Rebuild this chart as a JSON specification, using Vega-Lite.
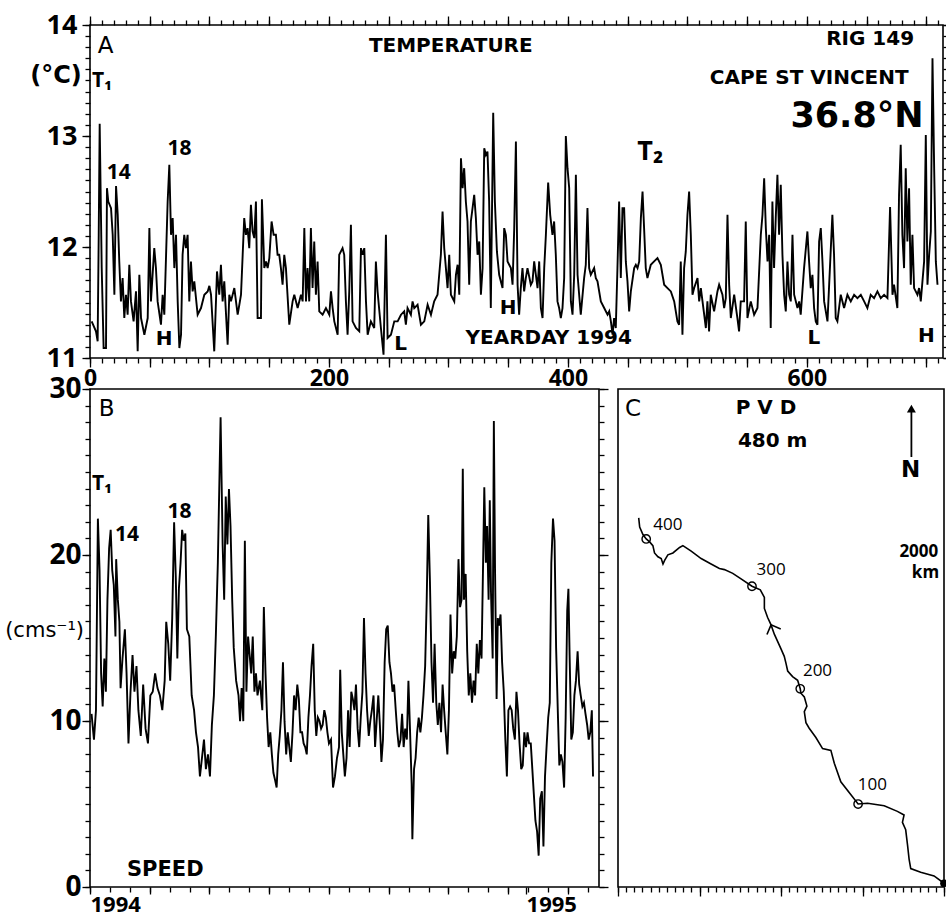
{
  "$schema": "https://vega.github.io/schema/vega-lite/v6.json",
  "background": "white",
  "padding": {"left": 4, "top": 10, "right": 0, "bottom": 0},
  "bounds": "flush",
  "spacing": 31,
  "config": {
    "font": "Open Sans, DejaVu Sans",
    "view": {"stroke": "black", "strokeWidth": 1.6},
    "axis": {"domain": false, "grid": false, "tickColor": "black", "tickWidth": 1.3, "labelColor": "black", "labelFont": "Open Sans, DejaVu Sans", "labelFontWeight": "bold", "labelFlush": false, "labelOverlap": false, "labelPadding": 1}
  },
  "vconcat": [
    {
      "width": 853,
      "height": 333,
      "layer": [
        {
          "data": {"values": [
{"day":1.4,"temp":11.33},{"day":5.0,"temp":11.24},{"day":6.4,"temp":11.15},{"day":7.3,"temp":12.11},{"day":8.1,"temp":13.11},{"day":9.8,"temp":11.81},{"day":11.4,"temp":11.09},{"day":13.4,"temp":11.09},{"day":14.2,"temp":12.53},{"day":15.3,"temp":12.41},{"day":17.6,"temp":12.35},{"day":19.0,"temp":12.11},{"day":20.4,"temp":11.57},{"day":21.8,"temp":12.55},{"day":23.2,"temp":12.29},{"day":24.5,"temp":11.87},{"day":25.9,"temp":11.51},{"day":27.3,"temp":11.72},{"day":28.7,"temp":11.36},{"day":30.1,"temp":11.57},{"day":31.5,"temp":11.39},{"day":32.9,"temp":11.84},{"day":34.3,"temp":11.51},{"day":36.5,"temp":11.33},{"day":38.5,"temp":11.60},{"day":39.9,"temp":11.06},{"day":41.3,"temp":11.75},{"day":42.7,"temp":11.36},{"day":45.5,"temp":11.21},{"day":48.3,"temp":11.36},{"day":49.7,"temp":12.17},{"day":51.0,"temp":11.51},{"day":53.8,"temp":11.99},{"day":55.2,"temp":11.81},{"day":56.6,"temp":11.51},{"day":59.4,"temp":11.30},{"day":60.8,"temp":11.57},{"day":62.2,"temp":11.39},{"day":65.0,"temp":12.41},{"day":66.4,"temp":12.74},{"day":67.8,"temp":12.11},{"day":69.2,"temp":12.26},{"day":70.6,"temp":11.81},{"day":72.0,"temp":12.11},{"day":73.4,"temp":11.51},{"day":74.8,"temp":11.09},{"day":76.2,"temp":11.21},{"day":77.5,"temp":11.93},{"day":78.9,"temp":12.11},{"day":80.3,"temp":11.99},{"day":81.7,"temp":12.11},{"day":83.1,"temp":11.51},{"day":84.5,"temp":11.87},{"day":85.9,"temp":11.60},{"day":87.3,"temp":11.69},{"day":90.1,"temp":11.39},{"day":92.9,"temp":11.45},{"day":95.7,"temp":11.57},{"day":98.5,"temp":11.60},{"day":99.9,"temp":11.65},{"day":101.3,"temp":11.57},{"day":104.0,"temp":11.06},{"day":106.3,"temp":11.78},{"day":108.2,"temp":11.57},{"day":109.6,"temp":11.84},{"day":111.0,"temp":11.51},{"day":112.4,"temp":11.69},{"day":115.2,"temp":11.12},{"day":116.6,"temp":11.57},{"day":118.0,"temp":11.51},{"day":120.8,"temp":11.63},{"day":123.6,"temp":11.39},{"day":125.0,"temp":11.48},{"day":126.4,"temp":11.57},{"day":127.8,"temp":11.93},{"day":129.1,"temp":12.26},{"day":130.5,"temp":12.11},{"day":131.9,"temp":12.17},{"day":133.3,"temp":11.99},{"day":134.7,"temp":12.38},{"day":136.1,"temp":12.14},{"day":137.5,"temp":12.08},{"day":138.9,"temp":12.41},{"day":140.3,"temp":11.36},{"day":143.1,"temp":11.36},{"day":143.9,"temp":12.43},{"day":145.9,"temp":11.81},{"day":147.3,"temp":11.87},{"day":148.7,"temp":11.81},{"day":150.1,"temp":11.90},{"day":152.0,"temp":12.23},{"day":153.7,"temp":12.11},{"day":155.6,"temp":12.11},{"day":157.0,"temp":11.93},{"day":158.4,"temp":11.93},{"day":159.8,"temp":11.81},{"day":161.2,"temp":11.66},{"day":162.6,"temp":11.93},{"day":164.0,"temp":11.81},{"day":166.8,"temp":11.30},{"day":169.6,"temp":11.51},{"day":171.0,"temp":11.57},{"day":173.8,"temp":11.45},{"day":176.6,"temp":11.57},{"day":178.0,"temp":11.51},{"day":179.4,"temp":12.17},{"day":180.8,"temp":11.51},{"day":182.1,"temp":11.81},{"day":183.5,"temp":11.51},{"day":184.9,"temp":12.17},{"day":186.3,"temp":11.63},{"day":187.7,"temp":12.05},{"day":189.1,"temp":11.57},{"day":190.5,"temp":11.87},{"day":191.9,"temp":11.42},{"day":194.7,"temp":11.39},{"day":197.5,"temp":11.45},{"day":200.3,"temp":11.39},{"day":201.7,"temp":11.60},{"day":203.1,"temp":11.45},{"day":204.5,"temp":11.33},{"day":207.3,"temp":11.21},{"day":208.6,"temp":11.93},{"day":211.4,"temp":11.99},{"day":212.8,"temp":11.93},{"day":214.2,"temp":11.51},{"day":215.6,"temp":11.21},{"day":217.0,"temp":11.60},{"day":218.4,"temp":12.20},{"day":219.8,"temp":11.33},{"day":222.6,"temp":11.27},{"day":225.4,"temp":11.24},{"day":226.8,"temp":11.99},{"day":228.2,"temp":11.93},{"day":229.6,"temp":11.99},{"day":231.0,"temp":11.51},{"day":232.4,"temp":11.21},{"day":235.1,"temp":11.33},{"day":237.9,"temp":11.27},{"day":239.3,"temp":11.87},{"day":240.7,"temp":11.60},{"day":243.5,"temp":11.27},{"day":245.7,"temp":11.03},{"day":247.7,"temp":12.11},{"day":249.1,"temp":11.18},{"day":251.9,"temp":11.21},{"day":254.7,"temp":11.33},{"day":257.5,"temp":11.33},{"day":260.3,"temp":11.39},{"day":263.0,"temp":11.42},{"day":264.4,"temp":11.30},{"day":265.8,"temp":11.45},{"day":268.6,"temp":11.39},{"day":270.0,"temp":11.51},{"day":271.4,"temp":11.45},{"day":274.2,"temp":11.48},{"day":277.0,"temp":11.30},{"day":279.8,"temp":11.33},{"day":282.6,"temp":11.48},{"day":285.4,"temp":11.39},{"day":288.1,"temp":11.51},{"day":290.9,"temp":11.57},{"day":293.7,"temp":11.93},{"day":295.1,"temp":12.32},{"day":296.5,"temp":11.99},{"day":299.3,"temp":11.63},{"day":300.7,"temp":11.93},{"day":302.1,"temp":11.57},{"day":304.9,"temp":11.51},{"day":306.3,"temp":11.75},{"day":307.7,"temp":11.84},{"day":309.1,"temp":11.57},{"day":310.5,"temp":12.80},{"day":311.9,"temp":12.53},{"day":313.2,"temp":12.71},{"day":314.6,"temp":12.41},{"day":316.0,"temp":12.23},{"day":317.4,"temp":11.66},{"day":318.8,"temp":12.23},
{"day":321.6,"temp":12.47},{"day":323.0,"temp":12.26},{"day":324.4,"temp":11.93},{"day":325.8,"temp":12.05},{"day":327.2,"temp":11.57},{"day":328.6,"temp":11.81},{"day":330.0,"temp":12.89},{"day":331.4,"temp":12.83},{"day":332.7,"temp":12.86},{"day":334.1,"temp":12.41},{"day":335.5,"temp":11.45},{"day":337.5,"temp":13.21},{"day":338.9,"temp":12.41},{"day":340.6,"temp":11.96},{"day":342.5,"temp":11.75},{"day":343.9,"temp":11.69},{"day":345.3,"temp":11.63},{"day":346.7,"temp":12.17},{"day":348.1,"temp":12.11},{"day":349.5,"temp":11.87},{"day":352.3,"temp":11.81},{"day":353.7,"temp":11.66},{"day":355.1,"temp":12.17},{"day":356.5,"temp":12.95},{"day":357.9,"temp":11.66},{"day":359.2,"temp":11.39},{"day":360.6,"temp":11.63},{"day":362.0,"temp":11.81},{"day":363.4,"temp":11.60},{"day":364.8,"temp":11.72},{"day":366.2,"temp":11.81},{"day":369.0,"temp":11.66},{"day":370.4,"temp":11.69},{"day":371.8,"temp":11.87},{"day":374.6,"temp":11.63},{"day":376.0,"temp":11.87},{"day":377.4,"temp":11.45},{"day":378.8,"temp":11.36},{"day":380.2,"temp":11.81},{"day":381.6,"temp":12.11},{"day":383.5,"temp":12.58},{"day":385.2,"temp":12.29},{"day":387.1,"temp":12.11},{"day":388.5,"temp":12.23},{"day":389.9,"temp":11.93},{"day":391.3,"temp":11.51},{"day":392.7,"temp":11.45},{"day":394.1,"temp":11.36},{"day":395.5,"temp":11.45},{"day":396.9,"temp":11.72},{"day":398.3,"temp":13.00},{"day":399.7,"temp":12.71},{"day":401.1,"temp":12.53},{"day":402.5,"temp":11.51},{"day":403.9,"temp":11.39},{"day":405.3,"temp":11.75},{"day":406.7,"temp":12.65},{"day":408.1,"temp":11.75},{"day":410.8,"temp":11.39},{"day":413.6,"temp":11.72},{"day":415.0,"temp":11.84},{"day":416.4,"temp":12.35},{"day":417.8,"temp":11.81},{"day":419.2,"temp":11.75},{"day":422.0,"temp":11.81},{"day":423.4,"temp":11.72},{"day":424.8,"temp":11.69},{"day":427.6,"temp":11.51},{"day":430.4,"temp":11.45},{"day":433.2,"temp":11.39},{"day":434.6,"temp":11.42},{"day":436.0,"temp":11.33},{"day":437.4,"temp":11.21},{"day":438.7,"temp":11.36},{"day":440.1,"temp":11.27},{"day":441.5,"temp":11.81},{"day":442.9,"temp":12.41},{"day":444.3,"temp":11.72},{"day":445.7,"temp":12.35},{"day":447.1,"temp":12.35},{"day":448.5,"temp":11.87},{"day":449.9,"temp":11.69},{"day":451.3,"temp":11.42},{"day":452.7,"temp":11.60},{"day":455.5,"temp":11.81},{"day":456.9,"temp":11.84},{"day":458.3,"temp":11.81},{"day":459.7,"temp":11.87},{"day":461.1,"temp":12.26},{"day":462.5,"temp":12.50},{"day":463.8,"temp":12.17},{"day":465.2,"temp":11.81},{"day":466.6,"temp":11.72},{"day":469.4,"temp":11.84},{"day":472.2,"temp":11.87},{"day":475.0,"temp":11.90},{"day":477.8,"temp":11.84},{"day":480.6,"temp":11.66},{"day":483.4,"temp":11.63},{"day":486.2,"temp":11.60},{"day":489.0,"temp":11.51},{"day":491.7,"temp":11.33},{"day":493.1,"temp":11.30},{"day":494.5,"temp":11.87},{"day":495.9,"temp":11.21},{"day":497.3,"temp":11.81},{"day":498.7,"temp":11.96},{"day":500.1,"temp":12.29},{"day":501.5,"temp":12.50},{"day":502.9,"temp":12.11},{"day":504.3,"temp":11.57},{"day":505.7,"temp":11.63},{"day":508.5,"temp":11.72},{"day":509.9,"temp":11.51},{"day":511.3,"temp":11.63},{"day":514.1,"temp":11.39},{"day":515.5,"temp":11.27},{"day":516.8,"temp":11.51},{"day":518.2,"temp":11.24},{"day":519.6,"temp":11.57},{"day":522.4,"temp":11.42},{"day":525.2,"temp":11.60},{"day":526.6,"temp":11.66},{"day":529.4,"temp":11.57},{"day":530.8,"temp":11.45},{"day":532.2,"temp":11.54},{"day":533.6,"temp":12.29},{"day":535.0,"temp":11.66},{"day":536.4,"temp":11.36},{"day":539.2,"temp":11.57},{"day":541.9,"temp":11.36},{"day":543.3,"temp":11.24},{"day":544.7,"temp":11.51},{"day":547.5,"temp":11.51},{"day":548.9,"temp":12.23},{"day":550.3,"temp":11.36},{"day":553.1,"temp":11.51},{"day":555.9,"temp":11.39},{"day":558.7,"temp":11.45},{"day":561.5,"temp":12.11},{"day":562.9,"temp":12.29},{"day":564.3,"temp":12.62},{"day":565.7,"temp":12.17},{"day":567.1,"temp":11.87},{"day":568.5,"temp":12.11},{"day":569.8,"temp":11.27},{"day":571.2,"temp":12.41},{"day":572.6,"temp":11.81},{"day":574.0,"temp":12.26},{"day":575.4,"temp":12.65},{"day":576.8,"temp":12.11},{"day":578.2,"temp":12.56},{"day":579.6,"temp":11.93},{"day":581.0,"temp":11.57},{"day":582.4,"temp":11.42},{"day":583.8,"temp":11.87},{"day":585.2,"temp":11.57},{"day":586.6,"temp":11.51},{"day":588.0,"temp":12.11},{"day":589.4,"temp":11.57},{"day":592.2,"temp":11.45},{"day":593.6,"temp":11.51},{"day":594.9,"temp":11.39},{"day":597.7,"temp":11.81},{"day":600.5,"temp":12.14},{"day":601.9,"temp":11.87},{"day":603.3,"temp":11.63},{"day":604.7,"temp":11.75},{"day":606.1,"temp":11.45},{"day":607.5,"temp":11.33},{"day":608.9,"temp":11.30},{"day":610.3,"temp":12.05},{"day":611.7,"temp":12.17},{"day":613.1,"temp":11.87},{"day":614.5,"temp":11.51},{"day":617.3,"temp":11.33},{"day":618.7,"temp":11.66},{"day":621.4,"temp":12.29},{"day":622.8,"temp":11.93},{"day":624.2,"temp":11.36},{"day":625.6,"temp":11.33},{"day":628.4,"temp":11.57},{"day":631.2,"temp":11.45},{"day":634.0,"temp":11.57},{"day":636.8,"temp":11.51},{"day":639.6,"temp":11.57},{"day":642.4,"temp":11.54},{"day":645.2,"temp":11.57},{"day":648.0,"temp":11.51},{"day":650.7,"temp":11.45},{"day":653.5,"temp":11.57},{"day":656.3,"temp":11.54},{"day":659.1,"temp":11.60},{"day":661.9,"temp":11.54},{"day":664.7,"temp":11.57},{"day":667.5,"temp":11.54},{"day":669.7,"temp":12.36},{"day":671.7,"temp":11.57},{"day":673.0,"temp":11.66},{"day":675.8,"temp":11.45},{"day":677.2,"temp":12.47},{"day":678.6,"temp":12.92},{"day":680.0,"temp":12.11},{"day":681.4,"temp":11.81},{"day":682.8,"temp":12.71},{"day":684.2,"temp":12.05},{"day":685.6,"temp":12.53},{"day":687.0,"temp":11.66},{"day":688.4,"temp":12.11},{"day":689.8,"temp":11.63},{"day":692.6,"temp":11.57},{"day":694.0,"temp":11.63},{"day":695.4,"temp":11.51},{"day":698.2,"temp":11.87},{"day":699.6,"temp":13.01},{"day":701.0,"temp":11.66},{"day":702.4,"temp":11.93},{"day":703.8,"temp":12.14},{"day":705.2,"temp":13.70},{"day":706.6,"temp":12.71},{"day":708.0,"temp":11.87},{"day":709.4,"temp":11.66}
          ]},
          "mark": {"type": "line", "color": "black", "strokeWidth": 1.9, "clip": true},
          "encoding": {
            "x": {"field": "day", "type": "quantitative", "scale": {"domain": [0, 714], "nice": false, "zero": false},
                  "axis": {"orient": "bottom", "title": null, "values": [0,50,100,150,200,250,300,350,400,450,500,550,600,650,700], "labelExpr": "datum.value % 200 === 0 ? datum.label : ''", "tickSize": 9, "labelFontSize": 23, "labelPadding": 0}},
            "y": {"field": "temp", "type": "quantitative", "scale": {"domain": [11, 14], "nice": false, "zero": false},
                  "axis": {"orient": "left", "title": null, "values": [11,12,13,14], "tickSize": 8, "labelFontSize": 27, "labelPadding": 5}}
          }
        },
        {
          "data": {"values": [
            {"day": 302, "temp": 13.81, "label": "TEMPERATURE"},
            {"day": 653, "temp": 13.87, "label": "RIG 149"},
            {"day": 602, "temp": 13.52, "label": "CAPE ST  VINCENT"},
            {"day": 384, "temp": 11.18, "label": "YEARDAY 1994"}
          ]},
          "mark": {"type": "text", "font": "DejaVu Sans", "fontWeight": "bold", "fontSize": 20, "color": "black", "align": "center", "baseline": "middle"},
          "encoding": {
            "x": {"field": "day", "type": "quantitative", "scale": {"domain": [0, 714], "nice": false, "zero": false},
                  "axis": {"orient": "bottom", "title": null, "values": [0,10,20,30,40,50,60,70,80,90,100,110,120,130,140,150,160,170,180,190,200,210,220,230,240,250,260,270,280,290,300,310,320,330,340,350,360,370,380,390,400,410,420,430,440,450,460,470,480,490,500,510,520,530,540,550,560,570,580,590,600,610,620,630,640,650,660,670,680,690,700,710], "labels": false, "tickSize": 5}},
            "y": {"field": "temp", "type": "quantitative", "scale": {"domain": [11, 14], "nice": false, "zero": false},
                  "axis": {"orient": "left", "title": null, "values": [11,11.1,11.2,11.3,11.4,11.5,11.6,11.7,11.8,11.9,12,12.1,12.2,12.3,12.4,12.5,12.6,12.7,12.8,12.9,13,13.1,13.2,13.3,13.4,13.5,13.6,13.7,13.8,13.9,14], "labels": false, "tickSize": 5}},
            "text": {"field": "label"}
          }
        },
        {
          "data": {"values": [
            {"day": 24, "temp": 12.67, "label": "14"},
            {"day": 75, "temp": 12.88, "label": "18"},
            {"day": 10, "temp": 13.5, "label": "T₁"}
          ]},
          "mark": {"type": "text", "fontWeight": "bold", "fontSize": 21, "color": "black", "align": "center", "baseline": "middle"},
          "encoding": {
            "x": {"field": "day", "type": "quantitative", "scale": {"domain": [0, 714], "nice": false, "zero": false},
                  "axis": {"orient": "top", "title": null, "values": [0,10,20,30,40,50,60,70,80,90,100,110,120,130,140,150,160,170,180,190,200,210,220,230,240,250,260,270,280,290,300,310,320,330,340,350,360,370,380,390,400,410,420,430,440,450,460,470,480,490,500,510,520,530,540,550,560,570,580,590,600,610,620,630,640,650,660,670,680,690,700,710], "labels": false, "tickSize": 5}},
            "y": {"field": "temp", "type": "quantitative", "scale": {"domain": [11, 14], "nice": false, "zero": false},
                  "axis": {"orient": "right", "title": null, "values": [11,11.1,11.2,11.3,11.4,11.5,11.6,11.7,11.8,11.9,12,12.1,12.2,12.3,12.4,12.5,12.6,12.7,12.8,12.9,13,13.1,13.2,13.3,13.4,13.5,13.6,13.7,13.8,13.9,14], "labels": false, "tickSize": 5}},
            "text": {"field": "label"}
          }
        },
        {
          "data": {"values": [
            {"day": 62, "temp": 11.17, "label": "H"},
            {"day": 260, "temp": 11.13, "label": "L"},
            {"day": 350, "temp": 11.45, "label": "H"},
            {"day": 606, "temp": 11.18, "label": "L"},
            {"day": 700, "temp": 11.2, "label": "H"}
          ]},
          "mark": {"type": "text", "font": "DejaVu Sans", "fontWeight": "bold", "fontSize": 20, "color": "black", "align": "center", "baseline": "middle"},
          "encoding": {
            "x": {"field": "day", "type": "quantitative", "scale": {"domain": [0, 714], "nice": false, "zero": false},
                  "axis": {"orient": "top", "title": null, "values": [0,50,100,150,200,250,300,350,400,450,500,550,600,650,700], "labels": false, "tickSize": 9}},
            "y": {"field": "temp", "type": "quantitative", "scale": {"domain": [11, 14], "nice": false, "zero": false},
                  "axis": {"orient": "right", "title": null, "values": [11,12,13,14], "labels": false, "tickSize": 9}},
            "text": {"field": "label"}
          }
        },
        {
          "data": {"values": [
            {"day": 13, "temp": 13.81, "label": "A"}
          ]},
          "mark": {"type": "text", "font": "DejaVu Sans", "fontWeight": "normal", "fontSize": 23, "color": "black", "align": "center", "baseline": "middle"},
          "encoding": {
            "x": {"field": "day", "type": "quantitative", "scale": {"domain": [0, 714], "nice": false, "zero": false}, "axis": null},
            "y": {"field": "temp", "type": "quantitative", "scale": {"domain": [11, 14], "nice": false, "zero": false}, "axis": null},
            "text": {"field": "label"}
          }
        },
        {
          "data": {"values": [
            {"day": 642, "temp": 13.18, "label": "36.8°N"}
          ]},
          "mark": {"type": "text", "font": "DejaVu Sans", "fontWeight": "bold", "fontSize": 35, "color": "black", "align": "center", "baseline": "middle"},
          "encoding": {
            "x": {"field": "day", "type": "quantitative", "scale": {"domain": [0, 714], "nice": false, "zero": false}, "axis": null},
            "y": {"field": "temp", "type": "quantitative", "scale": {"domain": [11, 14], "nice": false, "zero": false}, "axis": null},
            "text": {"field": "label"}
          }
        },
        {
          "data": {"values": [
            {"day": 469, "temp": 12.86, "label": "T₂"}
          ]},
          "mark": {"type": "text", "fontWeight": "bold", "fontSize": 27, "color": "black", "align": "center", "baseline": "middle"},
          "encoding": {
            "x": {"field": "day", "type": "quantitative", "scale": {"domain": [0, 714], "nice": false, "zero": false}, "axis": null},
            "y": {"field": "temp", "type": "quantitative", "scale": {"domain": [11, 14], "nice": false, "zero": false}, "axis": null},
            "text": {"field": "label"}
          }
        },
        {
          "data": {"values": [
            {"day": -28.5, "temp": 13.54, "label": "(°C)"}
          ]},
          "mark": {"type": "text", "font": "DejaVu Sans", "fontWeight": "bold", "fontSize": 24, "color": "black", "align": "center", "baseline": "middle"},
          "encoding": {
            "x": {"field": "day", "type": "quantitative", "scale": {"domain": [0, 714], "nice": false, "zero": false}, "axis": null},
            "y": {"field": "temp", "type": "quantitative", "scale": {"domain": [11, 14], "nice": false, "zero": false}, "axis": null},
            "text": {"field": "label"}
          }
        }
      ],
      "resolve": {"axis": {"x": "independent", "y": "independent"}}
    },
    {
      "bounds": "flush",
      "spacing": 19,
      "hconcat": [
        {
          "width": 509,
          "height": 498,
          "layer": [
            {
              "data": {"values": [
{"day":1.3,"speed":10.43},{"day":3.3,"speed":8.88},{"day":5.0,"speed":10.65},{"day":6.6,"speed":22.19},{"day":8.0,"speed":19.08},{"day":9.3,"speed":12.87},{"day":10.6,"speed":10.87},{"day":12.0,"speed":13.76},{"day":13.3,"speed":11.76},{"day":14.6,"speed":17.31},{"day":16.0,"speed":20.41},{"day":17.3,"speed":21.52},{"day":18.6,"speed":19.08},{"day":19.9,"speed":18.20},{"day":21.3,"speed":15.09},{"day":21.9,"speed":19.75},{"day":23.3,"speed":17.31},{"day":24.6,"speed":15.98},{"day":25.6,"speed":11.98},{"day":27.2,"speed":13.76},{"day":29.2,"speed":15.53},{"day":30.6,"speed":12.87},{"day":32.2,"speed":8.65},{"day":33.9,"speed":11.76},{"day":35.6,"speed":13.98},{"day":37.2,"speed":11.76},{"day":38.9,"speed":13.31},{"day":40.5,"speed":10.65},{"day":42.5,"speed":9.10},{"day":44.5,"speed":12.20},{"day":46.5,"speed":9.54},{"day":48.5,"speed":8.65},{"day":50.5,"speed":11.54},{"day":52.5,"speed":11.76},{"day":54.5,"speed":12.87},{"day":56.5,"speed":11.98},{"day":58.5,"speed":11.54},{"day":60.5,"speed":10.65},{"day":62.5,"speed":12.43},{"day":63.8,"speed":15.98},{"day":65.5,"speed":14.65},{"day":67.1,"speed":12.43},{"day":68.8,"speed":16.20},{"day":70.4,"speed":21.97},{"day":71.8,"speed":18.64},{"day":73.1,"speed":13.76},{"day":74.4,"speed":17.97},{"day":75.8,"speed":19.53},{"day":77.1,"speed":21.52},{"day":78.4,"speed":20.86},{"day":79.8,"speed":21.30},{"day":81.1,"speed":15.53},{"day":83.1,"speed":15.09},{"day":85.1,"speed":11.54},{"day":87.1,"speed":10.65},{"day":88.7,"speed":9.32},{"day":90.4,"speed":8.43},{"day":92.0,"speed":6.66},{"day":93.7,"speed":7.77},{"day":95.4,"speed":8.88},{"day":97.0,"speed":7.10},{"day":98.7,"speed":7.99},{"day":100.4,"speed":6.66},{"day":102.0,"speed":9.76},{"day":103.7,"speed":11.54},{"day":105.3,"speed":15.09},{"day":107.0,"speed":19.53},{"day":109.3,"speed":28.29},{"day":111.0,"speed":20.64},{"day":112.3,"speed":17.31},{"day":113.6,"speed":23.52},{"day":115.0,"speed":20.64},{"day":116.3,"speed":23.97},{"day":117.6,"speed":21.75},{"day":119.0,"speed":17.31},{"day":120.3,"speed":14.42},{"day":122.3,"speed":12.43},{"day":124.3,"speed":11.54},{"day":125.6,"speed":9.99},{"day":126.9,"speed":11.98},{"day":128.3,"speed":9.99},{"day":129.6,"speed":20.86},{"day":130.9,"speed":11.76},{"day":132.3,"speed":15.09},{"day":133.6,"speed":13.98},{"day":134.9,"speed":12.87},{"day":136.2,"speed":15.09},{"day":137.6,"speed":11.76},{"day":138.9,"speed":12.87},{"day":140.2,"speed":11.54},{"day":142.2,"speed":12.43},{"day":144.2,"speed":10.65},{"day":145.5,"speed":16.86},{"day":146.9,"speed":12.87},{"day":148.2,"speed":10.21},{"day":149.5,"speed":8.43},{"day":150.9,"speed":9.32},{"day":152.2,"speed":7.99},{"day":153.5,"speed":6.88},{"day":154.9,"speed":6.44},{"day":156.2,"speed":5.99},{"day":157.5,"speed":7.99},{"day":158.8,"speed":9.10},{"day":160.2,"speed":10.65},{"day":161.5,"speed":13.54},{"day":162.8,"speed":9.99},{"day":164.2,"speed":7.99},{"day":165.5,"speed":9.32},{"day":166.8,"speed":8.43},{"day":168.1,"speed":7.54},{"day":169.5,"speed":9.32},{"day":170.8,"speed":11.54},{"day":172.1,"speed":10.65},{"day":173.5,"speed":12.20},{"day":174.8,"speed":11.32},{"day":176.1,"speed":9.32},{"day":177.5,"speed":9.32},{"day":178.8,"speed":8.65},{"day":180.1,"speed":8.43},{"day":181.4,"speed":7.99},{"day":182.8,"speed":10.21},{"day":184.1,"speed":11.54},{"day":185.4,"speed":13.31},{"day":186.8,"speed":14.65},{"day":188.1,"speed":10.65},{"day":189.4,"speed":9.10},{"day":190.7,"speed":10.21},{"day":192.1,"speed":9.99},{"day":193.4,"speed":9.54},{"day":194.7,"speed":9.76},{"day":196.1,"speed":10.65},{"day":197.4,"speed":10.21},{"day":198.7,"speed":9.32},{"day":200.0,"speed":8.65},{"day":201.7,"speed":8.88},{"day":203.4,"speed":5.99},{"day":205.0,"speed":6.66},{"day":206.7,"speed":7.77},{"day":208.4,"speed":8.43},{"day":209.4,"speed":13.09},{"day":210.7,"speed":9.32},{"day":212.0,"speed":7.99},{"day":213.3,"speed":6.66},{"day":214.7,"speed":7.77},{"day":216.0,"speed":10.65},{"day":217.3,"speed":8.43},{"day":218.7,"speed":11.76},{"day":220.0,"speed":11.32},{"day":221.3,"speed":10.65},{"day":222.6,"speed":12.20},{"day":224.0,"speed":9.54},{"day":225.3,"speed":8.43},{"day":226.6,"speed":10.21},{"day":228.0,"speed":11.76},{"day":229.3,"speed":16.20},{"day":230.6,"speed":12.87},{"day":231.9,"speed":10.65},{"day":233.3,"speed":9.10},{"day":234.6,"speed":9.99},{"day":235.9,"speed":10.65},{"day":237.3,"speed":11.54},{"day":238.6,"speed":8.43},{"day":239.9,"speed":9.99},{"day":241.3,"speed":11.54},{"day":242.6,"speed":9.76},{"day":243.9,"speed":7.54},{"day":245.2,"speed":8.88},{"day":246.6,"speed":13.54},{"day":247.9,"speed":15.53},{"day":249.2,"speed":15.75},{"day":250.6,"speed":13.54},{"day":251.9,"speed":12.87},{"day":253.2,"speed":11.76},{"day":254.5,"speed":12.20},{"day":255.9,"speed":10.65},{"day":257.2,"speed":9.32},{"day":258.5,"speed":8.43},{"day":259.9,"speed":8.88},{"day":261.2,"speed":10.43},{"day":262.5,"speed":8.43},{"day":263.8,"speed":9.54},{"day":265.2,"speed":8.88},{"day":266.5,"speed":12.43},{"day":267.8,"speed":9.54},{"day":269.2,"speed":6.21},{"day":269.8,"speed":2.88},{"day":271.2,"speed":7.10},{"day":272.5,"speed":7.77},{"day":273.8,"speed":9.32},{"day":275.1,"speed":10.21},{"day":276.5,"speed":9.32},{"day":277.8,"speed":10.21},{"day":279.1,"speed":11.54},{"day":280.5,"speed":13.31},{"day":281.8,"speed":17.31},{"day":283.1,"speed":22.41},{"day":284.5,"speed":18.42},{"day":285.8,"speed":13.54},{"day":287.1,"speed":11.10},{"day":288.4,"speed":14.65},{"day":289.8,"speed":11.10},{"day":291.1,"speed":9.76},{"day":292.4,"speed":11.10},{"day":293.8,"speed":9.32},{"day":295.1,"speed":12.20},{"day":296.4,"speed":10.65},{"day":297.7,"speed":9.32},{"day":299.1,"speed":7.99},{"day":300.4,"speed":10.65},{"day":301.7,"speed":16.42},{"day":303.1,"speed":12.87},{"day":304.4,"speed":14.20},{"day":305.7,"speed":13.76},{"day":307.0,"speed":15.09},{"day":308.4,"speed":19.75},{"day":309.7,"speed":16.86},{"day":311.0,"speed":17.31},{"day":312.0,"speed":25.19},{"day":313.0,"speed":17.31},{"day":314.4,"speed":18.86},{"day":315.7,"speed":14.20},{"day":317.0,"speed":11.54},{"day":318.3,"speed":12.87},{"day":319.7,"speed":11.10},{"day":321.0,"speed":12.43},{"day":322.3,"speed":11.54},{"day":323.7,"speed":14.65},{"day":325.0,"speed":12.87},{"day":326.3,"speed":14.87},{"day":327.7,"speed":13.76},{"day":329.0,"speed":19.53},{"day":330.0,"speed":24.08},{"day":331.3,"speed":19.53},{"day":332.3,"speed":21.75},{"day":333.6,"speed":17.31},{"day":334.6,"speed":23.30},{"day":335.6,"speed":17.75},{"day":337.0,"speed":13.76},{"day":338.0,"speed":28.07},{"day":339.0,"speed":19.08},{"day":340.3,"speed":11.32},{"day":341.3,"speed":16.20},{"day":342.3,"speed":15.75},{"day":343.6,"speed":16.42},{"day":344.9,"speed":13.54},{"day":346.3,"speed":11.76},{"day":347.6,"speed":8.88},{"day":348.9,"speed":6.66},{"day":350.2,"speed":10.65},{"day":351.6,"speed":10.87},{"day":352.9,"speed":10.65},{"day":354.2,"speed":9.54},{"day":355.6,"speed":8.88},{"day":356.9,"speed":11.76},{"day":358.2,"speed":10.65},{"day":359.5,"speed":8.65},{"day":360.9,"speed":7.10},{"day":362.2,"speed":7.32},{"day":363.5,"speed":9.32},{"day":364.9,"speed":8.43},{"day":366.2,"speed":9.32},{"day":367.5,"speed":8.65},{"day":368.9,"speed":8.65},{"day":370.2,"speed":7.10},{"day":371.5,"speed":5.55},{"day":372.8,"speed":3.99},{"day":374.2,"speed":3.33},{"day":375.5,"speed":1.89},{"day":376.8,"speed":5.33},{"day":378.2,"speed":5.77},{"day":379.5,"speed":2.44},{"day":380.8,"speed":6.66},{"day":382.1,"speed":8.43},{"day":383.5,"speed":10.21},{"day":384.8,"speed":11.10},{"day":386.1,"speed":19.53},{"day":387.5,"speed":22.19},{"day":388.8,"speed":20.86},{"day":390.1,"speed":14.42},{"day":391.5,"speed":10.65},{"day":392.8,"speed":7.32},{"day":394.1,"speed":7.99},{"day":395.4,"speed":7.54},{"day":396.8,"speed":5.99},{"day":398.1,"speed":10.21},{"day":399.4,"speed":16.64},{"day":400.4,"speed":17.97},{"day":401.4,"speed":13.98},{"day":402.8,"speed":8.88},{"day":404.1,"speed":9.32},{"day":405.4,"speed":11.54},{"day":406.7,"speed":12.43},{"day":408.1,"speed":14.20},{"day":409.4,"speed":12.20},{"day":410.7,"speed":11.54},{"day":412.1,"speed":10.87},{"day":413.4,"speed":11.10},{"day":414.7,"speed":10.43},{"day":416.1,"speed":9.76},{"day":417.4,"speed":8.88},{"day":418.7,"speed":9.32},{"day":420.0,"speed":10.65},{"day":421.0,"speed":6.66}
              ]},
              "mark": {"type": "line", "color": "black", "strokeWidth": 1.9, "clip": true},
              "encoding": {
                "x": {"field": "day", "type": "quantitative", "scale": {"domain": [0, 426], "nice": false, "zero": false},
                      "axis": {"orient": "bottom", "title": null, "values": [0,50,100,150,200,250,300,350,400,365], "labelExpr": "datum.value === 0 ? '1994' : (datum.value === 365 ? '1995' : '')", "labelAlign": "left", "tickSize": 7, "labelFontSize": 22, "labelPadding": 0}},
                "y": {"field": "speed", "type": "quantitative", "scale": {"domain": [0, 30], "nice": false, "zero": false},
                      "axis": {"orient": "left", "title": null, "values": [0,10,20,30], "tickSize": 8, "labelFontSize": 28, "labelPadding": 1}}
              }
            },
            {
              "data": {"values": [
                {"day": 10, "speed": 24.3, "label": "T₁"},
                {"day": 31, "speed": 21.2, "label": "14"},
                {"day": 75, "speed": 22.6, "label": "18"}
              ]},
              "mark": {"type": "text", "fontWeight": "bold", "fontSize": 21, "color": "black", "align": "center", "baseline": "middle"},
              "encoding": {
                "x": {"field": "day", "type": "quantitative", "scale": {"domain": [0, 426], "nice": false, "zero": false},
                      "axis": {"orient": "bottom", "title": null, "values": [0,16.67,33.33,50,66.67,83.33,100,116.67,133.33,150,166.67,183.33,200,216.67,233.33,250,266.67,283.33,300,316.67,333.33,350,366.67,383.33,400,416.67], "labels": false, "tickSize": 5}},
                "y": {"field": "speed", "type": "quantitative", "scale": {"domain": [0, 30], "nice": false, "zero": false},
                      "axis": {"orient": "left", "title": null, "values": [0,1,2,3,4,5,6,7,8,9,10,11,12,13,14,15,16,17,18,19,20,21,22,23,24,25,26,27,28,29,30], "labels": false, "tickSize": 5}},
                "text": {"field": "label"}
              }
            },
            {
              "data": {"values": [
                {"day": 63, "speed": 1.0, "label": "SPEED"}
              ]},
              "mark": {"type": "text", "font": "DejaVu Sans", "fontWeight": "bold", "fontSize": 21, "color": "black", "align": "center", "baseline": "middle"},
              "encoding": {
                "x": {"field": "day", "type": "quantitative", "scale": {"domain": [0, 426], "nice": false, "zero": false}, "axis": null},
                "y": {"field": "speed", "type": "quantitative", "scale": {"domain": [0, 30], "nice": false, "zero": false},
                      "axis": {"orient": "right", "title": null, "values": [0,1,2,3,4,5,6,7,8,9,10,11,12,13,14,15,16,17,18,19,20,21,22,23,24,25,26,27,28,29,30], "labels": false, "tickSize": 5}},
                "text": {"field": "label"}
              }
            },
            {
              "data": {"values": [
                {"day": 14, "speed": 28.8, "label": "B"}
              ]},
              "mark": {"type": "text", "font": "DejaVu Sans", "fontWeight": "normal", "fontSize": 23, "color": "black", "align": "center", "baseline": "middle"},
              "encoding": {
                "x": {"field": "day", "type": "quantitative", "scale": {"domain": [0, 426], "nice": false, "zero": false}, "axis": null},
                "y": {"field": "speed", "type": "quantitative", "scale": {"domain": [0, 30], "nice": false, "zero": false},
                      "axis": {"orient": "right", "title": null, "values": [0,10,20,30], "labels": false, "tickSize": 9}},
                "text": {"field": "label"}
              }
            },
            {
              "data": {"values": [
                {"day": -5, "speed": 15.4, "label": "(cms⁻¹)"}
              ]},
              "mark": {"type": "text", "font": "DejaVu Sans", "fontWeight": "normal", "fontSize": 21, "color": "black", "align": "right", "baseline": "middle"},
              "encoding": {
                "x": {"field": "day", "type": "quantitative", "scale": {"domain": [0, 426], "nice": false, "zero": false}, "axis": null},
                "y": {"field": "speed", "type": "quantitative", "scale": {"domain": [0, 30], "nice": false, "zero": false}, "axis": null},
                "text": {"field": "label"}
              }
            }
          ],
          "resolve": {"axis": {"x": "independent", "y": "independent"}}
        },
        {
          "width": 326,
          "height": 498,
          "layer": [
            {
              "data": {"values": [
{"seq":0,"east_km":2000,"north_km":23},{"seq":1,"east_km":1939,"north_km":68},{"seq":2,"east_km":1857,"north_km":91},{"seq":3,"east_km":1796,"north_km":113},{"seq":4,"east_km":1786,"north_km":170},{"seq":5,"east_km":1776,"north_km":260},{"seq":6,"east_km":1765,"north_km":351},{"seq":7,"east_km":1745,"north_km":396},{"seq":8,"east_km":1755,"north_km":442},{"seq":9,"east_km":1714,"north_km":464},{"seq":10,"east_km":1633,"north_km":498},{"seq":11,"east_km":1531,"north_km":514},{"seq":12,"east_km":1473,"north_km":509},{"seq":13,"east_km":1429,"north_km":566},{"seq":14,"east_km":1367,"north_km":645},{"seq":15,"east_km":1327,"north_km":759},{"seq":16,"east_km":1306,"north_km":838},{"seq":17,"east_km":1255,"north_km":849},{"seq":18,"east_km":1214,"north_km":917},{"seq":19,"east_km":1173,"north_km":974},{"seq":20,"east_km":1153,"north_km":1008},{"seq":21,"east_km":1143,"north_km":1076},{"seq":22,"east_km":1159,"north_km":1110},{"seq":23,"east_km":1143,"north_km":1166},{"seq":24,"east_km":1122,"north_km":1189},{"seq":25,"east_km":1118,"north_km":1216},{"seq":26,"east_km":1102,"north_km":1268},{"seq":27,"east_km":1071,"north_km":1291},{"seq":28,"east_km":1041,"north_km":1325},{"seq":29,"east_km":1031,"north_km":1370},{"seq":30,"east_km":1020,"north_km":1415},{"seq":31,"east_km":1000,"north_km":1461},{"seq":32,"east_km":959,"north_km":1551},{"seq":33,"east_km":939,"north_km":1608},{"seq":34,"east_km":918,"north_km":1653},{"seq":35,"east_km":898,"north_km":1709},{"seq":36,"east_km":898,"north_km":1777},{"seq":37,"east_km":873,"north_km":1823},{"seq":38,"east_km":847,"north_km":1834},{"seq":39,"east_km":822,"north_km":1845},{"seq":40,"east_km":755,"north_km":1890},{"seq":41,"east_km":704,"north_km":1924},{"seq":42,"east_km":653,"north_km":1947},{"seq":43,"east_km":622,"north_km":1954},{"seq":44,"east_km":571,"north_km":1981},{"seq":45,"east_km":510,"north_km":2015},{"seq":46,"east_km":449,"north_km":2060},{"seq":47,"east_km":398,"north_km":2094},{"seq":48,"east_km":378,"north_km":2083},{"seq":49,"east_km":337,"north_km":2049},{"seq":50,"east_km":306,"north_km":2038},{"seq":51,"east_km":286,"north_km":2004},{"seq":52,"east_km":276,"north_km":1981},{"seq":53,"east_km":265,"north_km":2015},{"seq":54,"east_km":245,"north_km":2026},{"seq":55,"east_km":224,"north_km":2049},{"seq":56,"east_km":214,"north_km":2094},{"seq":57,"east_km":194,"north_km":2117},{"seq":58,"east_km":173,"north_km":2135},{"seq":59,"east_km":153,"north_km":2162},{"seq":60,"east_km":133,"north_km":2208},{"seq":61,"east_km":127,"north_km":2264}
              ]},
              "mark": {"type": "line", "color": "black", "strokeWidth": 1.6},
              "encoding": {
                "x": {"field": "east_km", "type": "quantitative", "scale": {"domain": [0, 2000], "nice": false, "zero": false},
                      "axis": {"orient": "bottom", "title": null, "values": [0,50,100,150,200,250,300,350,400,450,500,550,600,650,700,750,800,850,900,950,1000,1050,1100,1150,1200,1250,1300,1350,1400,1450,1500,1550,1600,1650,1700,1750,1800,1850,1900,1950,2000], "labels": false, "tickSize": 5}},
                "y": {"field": "north_km", "type": "quantitative", "scale": {"domain": [0, 3055], "nice": false, "zero": false}, "axis": null},
                "order": {"field": "seq", "type": "quantitative"}
              }
            },
            {
              "data": {"values": [
                {"yearday": 100, "east_km": 1473, "north_km": 509},
                {"yearday": 200, "east_km": 1118, "north_km": 1216},
                {"yearday": 300, "east_km": 822, "north_km": 1845},
                {"yearday": 400, "east_km": 173, "north_km": 2135}
              ]},
              "mark": {"type": "point", "shape": "circle", "filled": false, "color": "black", "strokeWidth": 1.4, "size": 70, "opacity": 1},
              "encoding": {
                "x": {"field": "east_km", "type": "quantitative", "scale": {"domain": [0, 2000], "nice": false, "zero": false},
                      "axis": {"orient": "bottom", "title": null, "values": [0,500,1000,1500,2000], "labels": false, "tickSize": 9}},
                "y": {"field": "north_km", "type": "quantitative", "scale": {"domain": [0, 3055], "nice": false, "zero": false}, "axis": null}
              }
            },
            {
              "data": {"values": [
                {"yearday": 0, "east_km": 2000, "north_km": 23}
              ]},
              "mark": {"type": "point", "shape": "circle", "filled": true, "color": "black", "size": 60, "opacity": 1},
              "encoding": {
                "x": {"field": "east_km", "type": "quantitative", "scale": {"domain": [0, 2000], "nice": false, "zero": false}, "axis": null},
                "y": {"field": "north_km", "type": "quantitative", "scale": {"domain": [0, 3055], "nice": false, "zero": false}, "axis": null}
              }
            },
            {
              "data": {"values": [
                {"east_km": 306, "north_km": 2219, "label": "400"},
                {"east_km": 939, "north_km": 1947, "label": "300"},
                {"east_km": 1224, "north_km": 1325, "label": "200"},
                {"east_km": 1561, "north_km": 623, "label": "100"}
              ]},
              "mark": {"type": "text", "fontWeight": "normal", "fontSize": 17, "color": "black", "align": "center", "baseline": "middle"},
              "encoding": {
                "x": {"field": "east_km", "type": "quantitative", "scale": {"domain": [0, 2000], "nice": false, "zero": false}, "axis": null},
                "y": {"field": "north_km", "type": "quantitative", "scale": {"domain": [0, 3055], "nice": false, "zero": false}, "axis": null},
                "text": {"field": "label"}
              }
            },
            {
              "data": {"values": [
                {"east_km": 92, "north_km": 2932, "label": "C"}
              ]},
              "mark": {"type": "text", "font": "DejaVu Sans", "fontWeight": "normal", "fontSize": 23, "color": "black", "align": "center", "baseline": "middle"},
              "encoding": {
                "x": {"field": "east_km", "type": "quantitative", "scale": {"domain": [0, 2000], "nice": false, "zero": false}, "axis": null},
                "y": {"field": "north_km", "type": "quantitative", "scale": {"domain": [0, 3055], "nice": false, "zero": false}, "axis": null},
                "text": {"field": "label"}
              }
            },
            {
              "data": {"values": [
                {"east_km": 908, "north_km": 2937, "label": "P V D"},
                {"east_km": 949, "north_km": 2733, "label": "480 m"}
              ]},
              "mark": {"type": "text", "font": "DejaVu Sans", "fontWeight": "bold", "fontSize": 20, "color": "black", "align": "center", "baseline": "middle"},
              "encoding": {
                "x": {"field": "east_km", "type": "quantitative", "scale": {"domain": [0, 2000], "nice": false, "zero": false}, "axis": null},
                "y": {"field": "north_km", "type": "quantitative", "scale": {"domain": [0, 3055], "nice": false, "zero": false}, "axis": null},
                "text": {"field": "label"}
              }
            },
            {
              "data": {"values": [
                {"east_km": 1796, "north_km": 2559, "label": "N"}
              ]},
              "mark": {"type": "text", "font": "DejaVu Sans", "fontWeight": "bold", "fontSize": 23, "color": "black", "align": "center", "baseline": "middle"},
              "encoding": {
                "x": {"field": "east_km", "type": "quantitative", "scale": {"domain": [0, 2000], "nice": false, "zero": false}, "axis": null},
                "y": {"field": "north_km", "type": "quantitative", "scale": {"domain": [0, 3055], "nice": false, "zero": false}, "axis": null},
                "text": {"field": "label"}
              }
            },
            {
              "data": {"values": [
                {"east_km": 1965, "north_km": 2055, "label": "2000"},
                {"east_km": 1970, "north_km": 1925, "label": "km"}
              ]},
              "mark": {"type": "text", "fontWeight": "bold", "fontSize": 17, "color": "black", "align": "right", "baseline": "middle"},
              "encoding": {
                "x": {"field": "east_km", "type": "quantitative", "scale": {"domain": [0, 2000], "nice": false, "zero": false}, "axis": null},
                "y": {"field": "north_km", "type": "quantitative", "scale": {"domain": [0, 3055], "nice": false, "zero": false}, "axis": null},
                "text": {"field": "label"}
              }
            },
            {
              "data": {"values": [
                {"east_km": 1800, "north_km": 2638, "north_end_km": 2930}
              ]},
              "mark": {"type": "rule", "color": "black", "strokeWidth": 1.8},
              "encoding": {
                "x": {"field": "east_km", "type": "quantitative", "scale": {"domain": [0, 2000], "nice": false, "zero": false}, "axis": null},
                "y": {"field": "north_km", "type": "quantitative", "scale": {"domain": [0, 3055], "nice": false, "zero": false}, "axis": null},
                "y2": {"field": "north_end_km"}
              }
            },
            {
              "data": {"values": [
                {"east_km": 1800, "north_km": 2935}
              ]},
              "mark": {"type": "point", "shape": "triangle-up", "filled": true, "color": "black", "size": 80, "opacity": 1},
              "encoding": {
                "x": {"field": "east_km", "type": "quantitative", "scale": {"domain": [0, 2000], "nice": false, "zero": false}, "axis": null},
                "y": {"field": "north_km", "type": "quantitative", "scale": {"domain": [0, 3055], "nice": false, "zero": false}, "axis": null}
              }
            },
            {
              "data": {"values": [
                {"east_km": 939, "north_km": 1608}
              ]},
              "mark": {"type": "point", "shape": "M -0.7 0.7 L 0 0 L 0.7 0.7", "filled": false, "color": "black", "strokeWidth": 1.6, "size": 450, "angle": -22, "opacity": 1},
              "encoding": {
                "x": {"field": "east_km", "type": "quantitative", "scale": {"domain": [0, 2000], "nice": false, "zero": false}, "axis": null},
                "y": {"field": "north_km", "type": "quantitative", "scale": {"domain": [0, 3055], "nice": false, "zero": false}, "axis": null}
              }
            }
          ],
          "resolve": {"axis": {"x": "independent", "y": "independent"}}
        }
      ]
    }
  ]
}
